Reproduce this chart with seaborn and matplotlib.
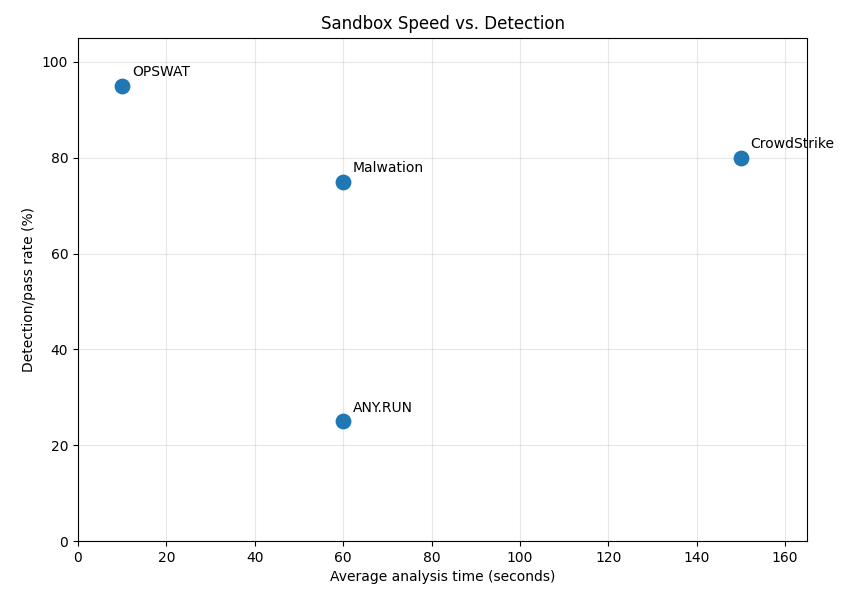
import matplotlib
matplotlib.use("Agg")
import matplotlib.pyplot as plt
import seaborn as sns
import pandas as pd

names = ["OPSWAT", "Malwation", "CrowdStrike", "ANY.RUN"]
times = [10, 60, 150, 60]
rates = [95, 75, 80, 25]

df = pd.DataFrame({"name": names, "time": times, "rate": rates})

fig, ax = plt.subplots(figsize=(8.56, 6.0), dpi=100)
sns.scatterplot(data=df, x="time", y="rate", s=130, color="#1f77b4", linewidth=0, ax=ax, zorder=3)
for n, x, y in zip(names, times, rates):
    ax.annotate(n, (x, y), xytext=(7, 7), textcoords="offset points", fontsize=10)
ax.set_xlim(0, 165)
ax.set_ylim(0, 105)
ax.grid(True, alpha=0.3)
ax.set_xlabel("Average analysis time (seconds)")
ax.set_ylabel("Detection/pass rate (%)")
ax.set_title("Sandbox Speed vs. Detection")
fig.subplots_adjust(left=0.091, right=0.943, top=0.937, bottom=0.098)
fig.savefig("out.png", dpi=100)
